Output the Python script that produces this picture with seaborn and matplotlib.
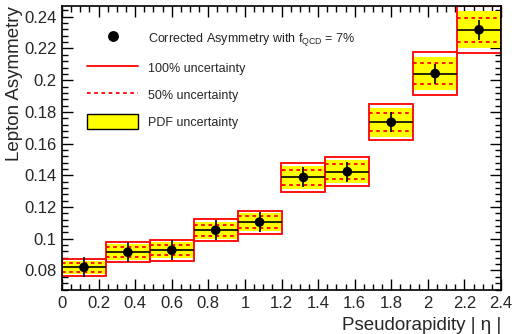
import numpy as np
import matplotlib
matplotlib.use("Agg")
import matplotlib.pyplot as plt
from matplotlib.lines import Line2D
from matplotlib.patches import Patch
from matplotlib.ticker import MultipleLocator
import seaborn as sns

# Pseudorapidity bins and measured lepton charge asymmetry
eta_edges = [0.0, 0.24, 0.48, 0.72, 0.96, 1.20, 1.44, 1.68, 1.92, 2.16, 2.40]
asymmetry = [0.0820, 0.0915, 0.0928, 0.1054, 0.1105, 0.1387, 0.1423, 0.1735, 0.2042, 0.2318]
stat_err = [0.0063, 0.0063, 0.0063, 0.0063, 0.0063, 0.0063, 0.0063, 0.0063, 0.0063, 0.0063]
qcd_err = [0.0055, 0.0062, 0.0066, 0.0068, 0.0072, 0.0093, 0.0093, 0.0114, 0.0136, 0.0148]
pdf_err = [0.0041, 0.0051, 0.0052, 0.0054, 0.0059, 0.0072, 0.0073, 0.0091, 0.0104, 0.0116]

sns.set_style("ticks")
plt.rcParams["font.family"] = ["Liberation Sans", "DejaVu Sans"]
plt.rcParams["mathtext.fontset"] = "custom"
plt.rcParams["mathtext.rm"] = "Liberation Sans"
plt.rcParams["mathtext.it"] = "Liberation Sans:italic"

edges = np.array(eta_edges)
centers = 0.5 * (edges[:-1] + edges[1:])
widths = np.diff(edges)
a = np.array(asymmetry)
q = np.array(qcd_err)
p = np.array(pdf_err)

fig = plt.figure(figsize=(5.15, 3.34), dpi=100)
ax = fig.add_axes([62 / 515, 44 / 334, 439 / 515, 284 / 334])

# PDF uncertainty band
ax.bar(centers, 2 * p, bottom=a - p, width=widths, color="#ffff00",
       edgecolor="none", linewidth=0, zorder=1)
# 50% QCD uncertainty
ax.hlines(a + 0.5 * q, edges[:-1], edges[1:], colors="#ff0000",
          linestyles=(0, (2, 2)), linewidth=1.3, zorder=2)
ax.hlines(a - 0.5 * q, edges[:-1], edges[1:], colors="#ff0000",
          linestyles=(0, (2, 2)), linewidth=1.3, zorder=2)
# 100% QCD uncertainty
ax.bar(centers, 2 * q, bottom=a - q, width=widths, fill=False,
       edgecolor="#ff0000", linewidth=1.3, zorder=3)
# statistical error bars
ax.errorbar(centers, a, yerr=stat_err, xerr=widths / 2, fmt="none",
            ecolor="black", elinewidth=1.2, capsize=0, zorder=4)
sns.scatterplot(x=centers, y=a, ax=ax, color="black", s=48,
                edgecolor="none", zorder=5)

ax.set_xlim(0, 2.4)
ax.set_ylim(0.0677, 0.2468)
ax.xaxis.set_minor_locator(MultipleLocator(0.05))
ax.yaxis.set_minor_locator(MultipleLocator(0.004))
ax.set_xticks(np.arange(0, 2.41, 0.2))
ax.set_xticklabels(["0", "0.2", "0.4", "0.6", "0.8", "1", "1.2", "1.4",
                    "1.6", "1.8", "2", "2.2", "2.4"])
ax.set_yticks(np.arange(0.08, 0.241, 0.02))
ax.set_yticklabels(["0.08", "0.1", "0.12", "0.14", "0.16", "0.18", "0.2",
                    "0.22", "0.24"])
ax.tick_params(which="both", direction="in", top=True, right=True,
               labelsize=12, color="black", width=1.0)
ax.tick_params(which="major", length=8, pad=4)
ax.tick_params(which="minor", length=4)
for s in ax.spines.values():
    s.set_linewidth(1.2)
    s.set_color("black")
    s.set_zorder(6)

ax.set_ylabel("Lepton Asymmetry", fontsize=13.5, loc="top")
ax.yaxis.set_label_coords(-0.088, 1.0)
ax.set_xlabel("Pseudorapidity | η |", fontsize=13.5, loc="right")
ax.xaxis.set_label_coords(1.0, -0.095)

handles = [
    Line2D([], [], marker="o", linestyle="none", color="black", markersize=6.8),
    Line2D([], [], color="#ff0000", linewidth=1.3),
    Line2D([], [], color="#ff0000", linewidth=1.3, linestyle=(0, (2, 2))),
    Patch(facecolor="#ffff00", edgecolor="black", linewidth=1.0),
]
labels = [
    r"Corrected Asymmetry with f$_{\rm QCD}$ = 7%",
    "100% uncertainty",
    "50% uncertainty",
    "PDF uncertainty",
]
ax.legend(handles, labels, loc="upper left", bbox_to_anchor=(0.057, 0.915),
          frameon=False, fontsize=9, handlelength=4.1, handleheight=1.5,
          handletextpad=0.8, labelspacing=0.95, borderpad=0, borderaxespad=0)

fig.savefig("out.png", dpi=100)
